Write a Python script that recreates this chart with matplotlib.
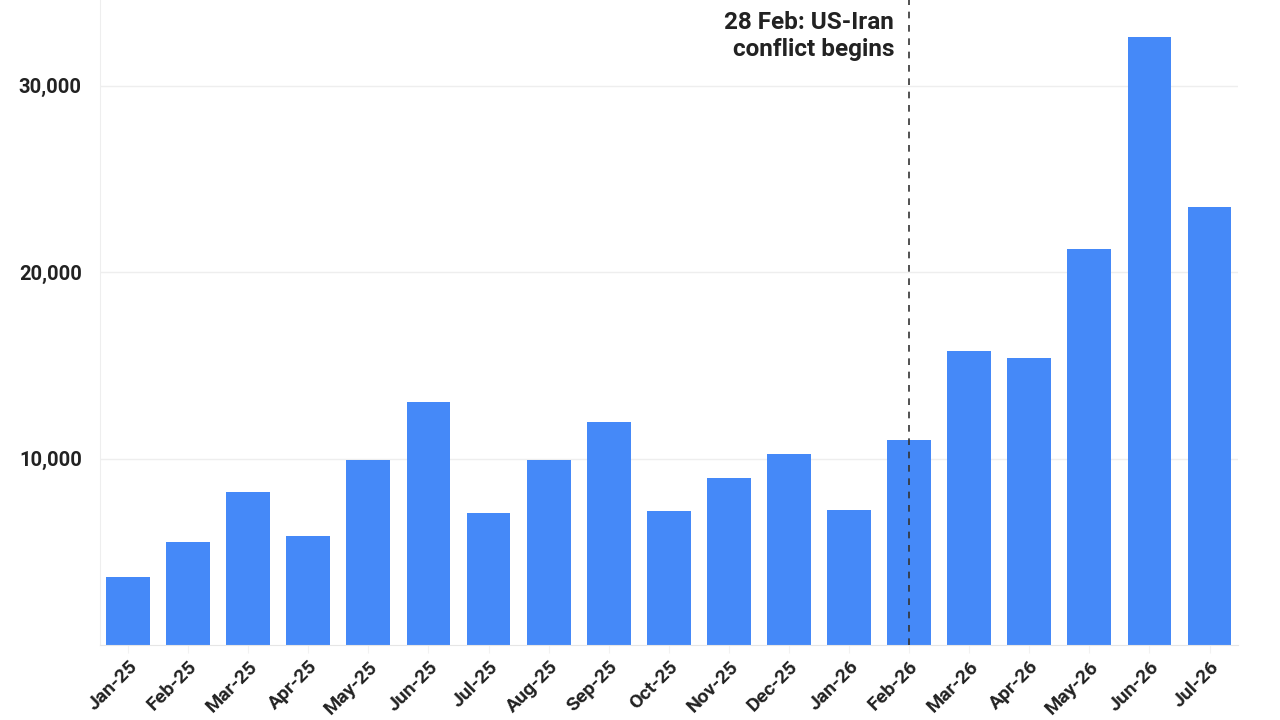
import matplotlib.pyplot as plt
import numpy as np

# monthly values
months = ['Jan-25', 'Feb-25', 'Mar-25', 'Apr-25', 'May-25', 'Jun-25', 'Jul-25',
          'Aug-25', 'Sep-25', 'Oct-25', 'Nov-25', 'Dec-25', 'Jan-26', 'Feb-26',
          'Mar-26', 'Apr-26', 'May-26', 'Jun-26', 'Jul-26']
values = [3650, 5530, 8210, 5850, 9930, 13040, 7090, 9930, 11970, 7190,
          8960, 10250, 7250, 11000, 15780, 15410, 21260, 32640, 23510]
y_ticks = [10000, 20000, 30000]
event_month = 'Feb-26'
event_text = '28 Feb: US-Iran\nconflict begins'

plt.rcParams['font.family'] = ['Roboto', 'DejaVu Sans']

fig = plt.figure(figsize=(12.8, 7.2), dpi=100)
ax = fig.add_axes([0.078, 0.104, 0.889, 0.896])

x = np.arange(len(months))
ax.bar(x, values, width=0.73, color='#4589f8', zorder=2)

ax.set_xlim(-0.47, len(months) - 0.53)
ax.set_ylim(0, 34600)

ax.set_yticks(y_ticks)
ax.set_yticklabels([f'{v:,}' for v in y_ticks], fontsize=14.5, fontweight='bold', color='#222222')
ax.set_xticks(x)
ax.set_xticklabels(months, rotation=45, ha='right', rotation_mode='anchor',
                   fontsize=14, fontweight='bold', color='#222222')
ax.tick_params(axis='y', length=0, pad=13)
ax.tick_params(axis='x', length=6, color='#f2f2f2', pad=3)
ax.grid(axis='y', color='#eeeeee', linewidth=1, zorder=0)

for side in ['top', 'right']:
    ax.spines[side].set_visible(False)
ax.spines['left'].set_color('#eeeeee')
ax.spines['bottom'].set_color('#e6e6e6')

# event marker
ex = months.index(event_month)
ax.axvline(ex, color='#333333', linestyle=(0, (4, 4)), linewidth=1.2, zorder=3)
ax.text(ex - 0.25, 34000, event_text, ha='right', va='top', fontsize=17.5,
        fontweight='bold', color='#222222', linespacing=1.2)

fig.savefig('out.png', dpi=100)
